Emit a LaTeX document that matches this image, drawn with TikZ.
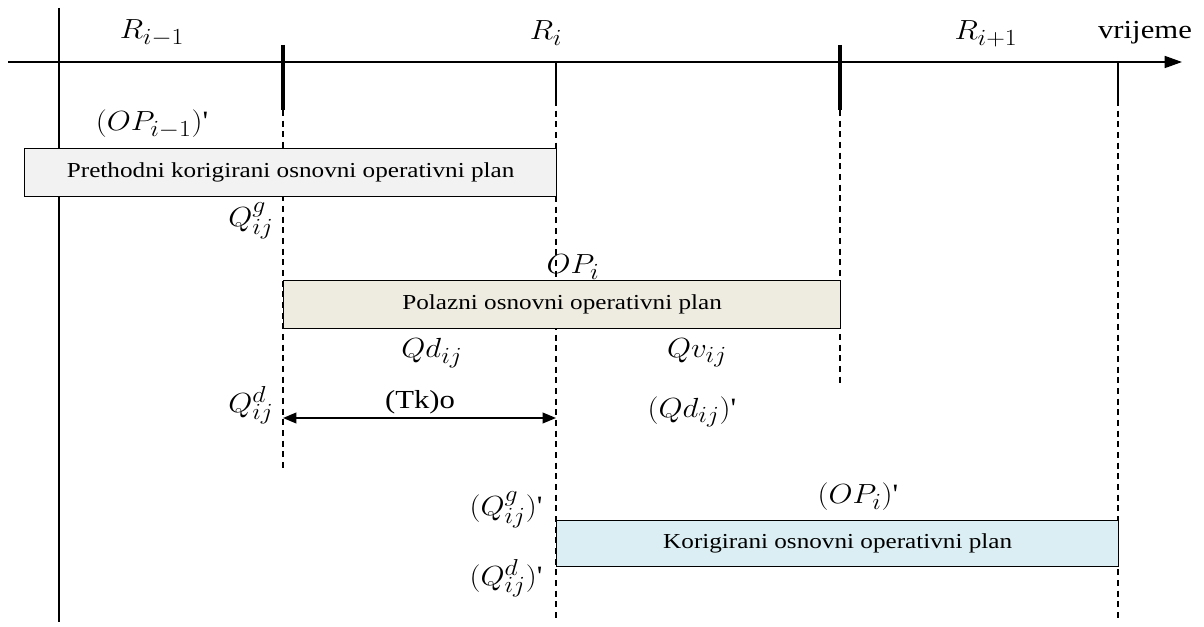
\documentclass[tikz,border=0pt]{standalone}
\usepackage{fontspec}
\setmainfont{Liberation Serif}
\usetikzlibrary{arrows.meta}
\DeclareMathSizes{21}{21}{16}{12}
\newcommand\widetxt[1]{\scalebox{1.18}[1]{#1}}
\newcommand\widemath[1]{\scalebox{1.12}[1]{#1}}
\newcommand\pr{\textquotesingle}
\begin{document}
\begin{tikzpicture}[x=0.75pt,y=-0.75pt,
  axisline/.style={line width=1.2pt},
  bigtick/.style={line width=3.2pt},
  guide/.style={line width=0.8pt, dash pattern=on 4.5pt off 3.5pt},
  planbox/.style={draw, line width=1pt, inner sep=0pt, anchor=north west},
  boxtxt/.style={font=\fontsize{16}{19}\selectfont, inner sep=0pt},
  lbl/.style={font=\fontsize{21}{25}\selectfont, inner sep=0pt},
  tlbl/.style={font=\fontsize{19.5}{23}\selectfont, inner sep=0pt}
]
\useasboundingbox (0,0) rectangle (1204,627);
\definecolor{boxgrey}{HTML}{F2F2F2}
\definecolor{boxbeige}{HTML}{EEECE1}
\definecolor{boxblue}{HTML}{DAEEF3}

% guide lines
\draw[line width=0.8pt] (59,8) -- (59,622);
\draw[line width=0.8pt] (556,62) -- (556,100);
\draw[guide] (556,100) -- (556,622);
\draw[line width=0.8pt] (1118,62) -- (1118,100);
\draw[guide] (1118,100) -- (1118,622);
\draw[guide] (283,110) -- (283,472);
\draw[guide] (840,110) -- (840,385);

% axis
\coordinate (axs) at (8,62);
\coordinate (axe) at (1182,62);
\draw[axisline,-{Triangle[length=13pt,width=9pt]}] (axs) -- (axe);
\draw[bigtick] (283,45) -- (283,110);
\draw[bigtick] (840,45) -- (840,110);

% boxes
\node[planbox, fill=boxgrey, minimum width=399pt, minimum height=36pt] (b1) at (24,148) {};
\node[boxtxt] (t1) at (b1.center) {\widetxt{Prethodni korigirani osnovni operativni plan}};
\node[planbox, fill=boxbeige, minimum width=417.75pt, minimum height=36pt] (b2) at (283,280) {};
\node[boxtxt] (t2) at (b2.center) {\widetxt{Polazni osnovni operativni plan}};
\node[planbox, fill=boxblue, minimum width=421.5pt, minimum height=34.5pt] (b3) at (556,520) {};
\node[boxtxt] (t3) at (b3.center) {\widetxt{Korigirani osnovni operativni plan}};

% double arrow
\coordinate (ta) at (283,418);
\coordinate (tb) at (556,418);
\draw[line width=1.3pt, {Triangle[length=10pt,width=8pt]}-{Triangle[length=10pt,width=8pt]}] (ta) -- (tb);

% labels
\node[lbl] (r1) at (152,33) {\widemath{$R_{i-1}$}};
\node[lbl] (r2) at (546,33) {\widemath{$R_{i}$}};
\node[lbl] (r3) at (986,34) {\widemath{$R_{i+1}$}};
\node[tlbl] (vr) at (1145,33) {\widetxt{vrijeme}};
\node[lbl] (op1) at (152,124) {\widemath{$(OP_{i-1})$\pr}};
\node[lbl] (qg) at (251,221) {\widemath{$Q_{ij}^{g}$}};
\node[lbl] (opi) at (573,267) {\widemath{$OP_{i}$}};
\node[lbl] (qd) at (432,353) {\widemath{$Qd_{ij}$}};
\node[lbl] (qv) at (697,353) {\widemath{$Qv_{ij}$}};
\node[lbl] (qdd) at (251,405) {\widemath{$Q_{ij}^{d}$}};
\node[tlbl] (tk) at (420,402) {\widetxt{(Tk)o}};
\node[lbl] (qdp) at (692,412) {\widemath{$(Qd_{ij})$\pr}};
\node[lbl] (qgp) at (506,510) {\widemath{$(Q_{ij}^{g})$\pr}};
\node[lbl] (opp) at (858,497) {\widemath{$(OP_{i})$\pr}};
\node[lbl] (qddp) at (506,578) {\widemath{$(Q_{ij}^{d})$\pr}};
\end{tikzpicture}
\end{document}
